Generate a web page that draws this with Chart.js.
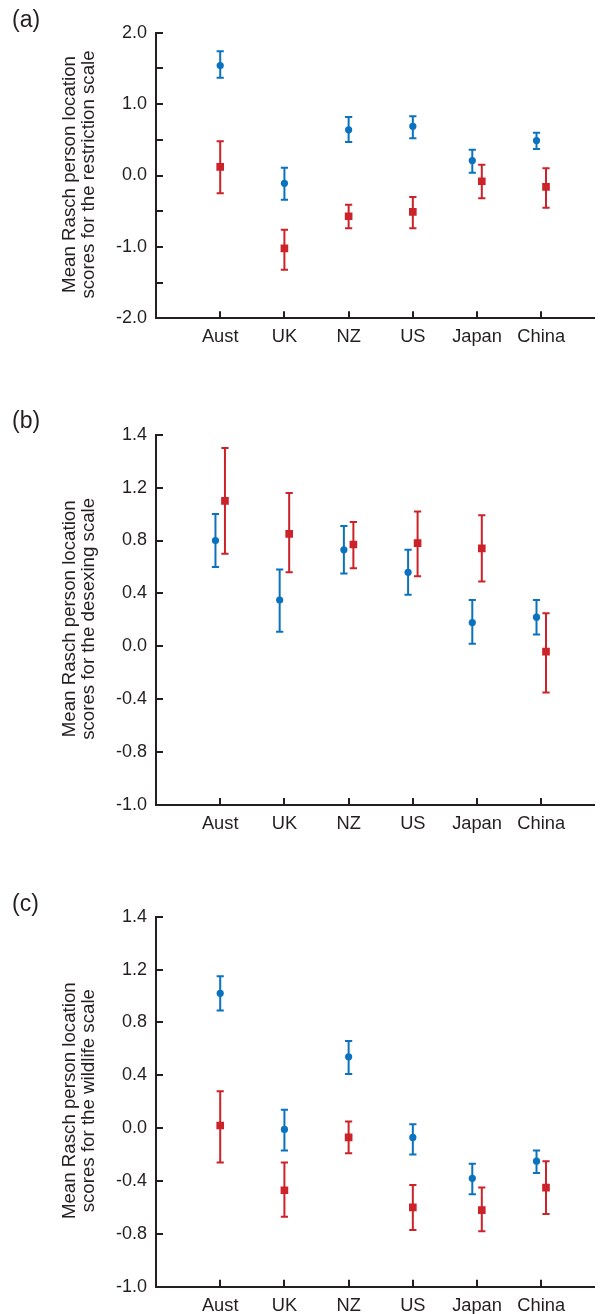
<!DOCTYPE html>
<html>
<head>
<meta charset="utf-8">
<script src="https://cdn.jsdelivr.net/npm/chart.js@4.4.0/dist/chart.umd.min.js"></script>
<style>
html, body { margin: 0; padding: 0; background: #ffffff; width: 600px; height: 1314px; overflow: hidden; }
.panel { position: absolute; left: 0; width: 600px; }
canvas { display: block; }
</style>
</head>
<body>
<div class="panel" style="top:0px;height:360px"><canvas id="ca" width="600" height="360"></canvas></div>
<div class="panel" style="top:400px;height:440px"><canvas id="cb" width="600" height="440"></canvas></div>
<div class="panel" style="top:870px;height:444px"><canvas id="cc" width="600" height="444"></canvas></div>
<script>
// ---------- data ----------
const categories = ['Aust', 'UK', 'NZ', 'US', 'Japan', 'China'];

// (a) restriction scale
const restrictionBlue     = [1.54, -0.11, 0.64, 0.69, 0.21, 0.49];
const restrictionBlueLow  = [1.37, -0.34, 0.47, 0.52, 0.04, 0.37];
const restrictionBlueHigh = [1.74, 0.11, 0.82, 0.83, 0.36, 0.60];
const restrictionRed      = [0.12, -1.02, -0.57, -0.51, -0.08, -0.16];
const restrictionRedLow   = [-0.25, -1.32, -0.74, -0.74, -0.32, -0.45];
const restrictionRedHigh  = [0.48, -0.76, -0.41, -0.30, 0.15, 0.10];
const restrictionTickValues = [-2, -1.5, -1, -0.5, 0, 0.5, 1, 1.5, 2];
const restrictionTickLabels = ['-2.0', '', '-1.0', '', '0.0', '', '1.0', '', '2.0'];

// (b) desexing scale
const desexingBlue     = [0.80, 0.35, 0.73, 0.56, 0.18, 0.22];
const desexingBlueLow  = [0.60, 0.11, 0.55, 0.39, 0.02, 0.09];
const desexingBlueHigh = [1.00, 0.58, 0.91, 0.73, 0.35, 0.35];
const desexingRed      = [1.10, 0.85, 0.77, 0.78, 0.74, -0.04];
const desexingRedLow   = [0.70, 0.56, 0.59, 0.53, 0.49, -0.35];
const desexingRedHigh  = [1.50, 1.16, 0.94, 1.02, 0.99, 0.25];

// (c) wildlife scale
const wildlifeBlue     = [1.02, -0.01, 0.54, -0.07, -0.38, -0.25];
const wildlifeBlueLow  = [0.89, -0.17, 0.41, -0.20, -0.50, -0.34];
const wildlifeBlueHigh = [1.15, 0.14, 0.66, 0.03, -0.27, -0.17];
const wildlifeRed      = [0.02, -0.47, -0.07, -0.60, -0.62, -0.45];
const wildlifeRedLow   = [-0.26, -0.67, -0.19, -0.77, -0.78, -0.65];
const wildlifeRedHigh  = [0.28, -0.26, 0.05, -0.43, -0.45, -0.25];

// tick positions / printed labels used by panels (b) and (c)
const scaleTickValues = [-1.2, -0.8, -0.4, 0, 0.4, 0.8, 1.2, 1.6];
const scaleTickLabels = ['-1.0', '-0.8', '-0.4', '0.0', '0.4', '0.8', '1.2', '1.4'];

// which categories have their two markers side by side
const dodgedA = [false, false, false, false, true, true];
const dodgedB = [true, true, true, true, true, true];
const dodgedC = [false, false, false, false, true, true];

// ---------- style ----------
const BLUE = '#0b72c0';
const RED = '#cc2229';
const INK = '#231f20';
const FONT = "'Liberation Sans', Arial, Helvetica, sans-serif";
const DODGE = 0.074;
const AXIS_LEFT = 156;
const CAT_STEP = 65;

function makePanel(id, p) {
  const canvas = document.getElementById(id);
  const H = canvas.height;
  const xmax = (600 - AXIS_LEFT) / CAT_STEP;
  const pos = (i, sign) => i + 1 + (p.dodge[i] ? sign * DODGE : 0);
  const blueData = p.blue.map((v, i) => ({ x: pos(i, -1), y: v, lo: p.blueLow[i], hi: p.blueHigh[i] }));
  const redData = p.red.map((v, i) => ({ x: pos(i, 1), y: v, lo: p.redLow[i], hi: p.redHigh[i] }));

  const errorBars = {
    id: 'errorBars_' + id,
    beforeDatasetsDraw(chart) {
      const ctx = chart.ctx;
      const xs = chart.scales.x, ys = chart.scales.y;
      ctx.save();
      chart.data.datasets.forEach(ds => {
        ctx.strokeStyle = ds.borderColor;
        ctx.lineWidth = 2;
        ds.data.forEach(d => {
          const x = xs.getPixelForValue(d.x);
          const y1 = ys.getPixelForValue(d.lo);
          const y2 = ys.getPixelForValue(d.hi);
          ctx.beginPath();
          ctx.moveTo(x, y1); ctx.lineTo(x, y2);
          ctx.moveTo(x - 3.6, y1); ctx.lineTo(x + 3.6, y1);
          ctx.moveTo(x - 3.6, y2); ctx.lineTo(x + 3.6, y2);
          ctx.stroke();
        });
      });
      ctx.restore();
    },
    afterDraw(chart) {
      const ctx = chart.ctx;
      const xs = chart.scales.x, ys = chart.scales.y;
      const a = chart.chartArea;
      ctx.save();
      ctx.strokeStyle = INK;
      ctx.lineWidth = 2;
      ctx.beginPath();
      ys.ticks.forEach(t => {
        const y = Math.round(ys.getPixelForValue(t.value));
        ctx.moveTo(a.left, y); ctx.lineTo(a.left + 7, y);
      });
      xs.ticks.forEach(t => {
        const x = Math.round(xs.getPixelForValue(t.value));
        ctx.moveTo(x, a.bottom); ctx.lineTo(x, a.bottom - 7);
      });
      ctx.stroke();
      // panel letter
      ctx.fillStyle = INK;
      ctx.font = '23px ' + FONT;
      ctx.textAlign = 'left';
      ctx.textBaseline = 'middle';
      ctx.fillText(p.letter, 12, p.letterY);
      // rotated axis title
      const midY = (a.top + a.bottom) / 2 - 1;
      ctx.font = '18.7px ' + FONT;
      ctx.textAlign = 'center';
      ctx.textBaseline = 'middle';
      [[p.title[0], 70], [p.title[1], 89]].forEach(([txt, x]) => {
        ctx.save();
        ctx.translate(x, midY);
        ctx.rotate(-Math.PI / 2);
        ctx.fillText(txt, 0, 0);
        ctx.restore();
      });
      ctx.restore();
    }
  };

  return new Chart(canvas, {
    type: 'scatter',
    data: {
      datasets: [
        { data: blueData, pointStyle: 'circle', pointRadius: 3.6, pointHoverRadius: 3.6,
          backgroundColor: BLUE, borderColor: BLUE, borderWidth: 0 },
        { data: redData, pointStyle: 'rect', pointRadius: 5.4, pointHoverRadius: 5.4,
          backgroundColor: RED, borderColor: RED, borderWidth: 0 }
      ]
    },
    options: {
      responsive: false,
      animation: false,
      events: [],
      layout: { padding: { top: p.plotTop, left: 0, right: 0, bottom: 0 } },
      plugins: { legend: { display: false }, tooltip: { enabled: false }, title: { display: false } },
      scales: {
        x: {
          type: 'linear', position: 'bottom', min: 0, max: xmax,
          grid: { display: false, drawTicks: false },
          border: { display: true, color: INK, width: 2 },
          afterBuildTicks: s => { s.ticks = categories.map((c, i) => ({ value: i + 1 })); },
          afterFit: s => { s.height = H - p.plotBottom; },
          ticks: {
            autoSkip: false, maxRotation: 0, padding: 8, color: INK,
            font: { family: FONT, size: 18.3 },
            callback: v => categories[Math.round(v) - 1] || ''
          }
        },
        y: {
          type: 'linear', position: 'left', min: p.tickValues[0], max: p.tickValues[p.tickValues.length - 1],
          grid: { display: false, drawTicks: false },
          border: { display: true, color: INK, width: 2 },
          afterBuildTicks: s => { s.ticks = p.tickValues.map(v => ({ value: v })); },
          afterFit: s => { s.width = AXIS_LEFT; },
          ticks: {
            autoSkip: false, padding: 9, color: INK,
            font: { family: FONT, size: 18 },
            callback: (v, i) => p.tickLabels[i]
          }
        }
      }
    },
    plugins: [errorBars]
  });
}

makePanel('ca', {
  blue: restrictionBlue, blueLow: restrictionBlueLow, blueHigh: restrictionBlueHigh,
  red: restrictionRed, redLow: restrictionRedLow, redHigh: restrictionRedHigh,
  tickValues: restrictionTickValues, tickLabels: restrictionTickLabels, dodge: dodgedA,
  plotTop: 32.7, plotBottom: 318.3, letter: '(a)', letterY: 21,
  title: ['Mean Rasch person location', 'scores for the restriction scale']
});
makePanel('cb', {
  blue: desexingBlue, blueLow: desexingBlueLow, blueHigh: desexingBlueHigh,
  red: desexingRed, redLow: desexingRedLow, redHigh: desexingRedHigh,
  tickValues: scaleTickValues, tickLabels: scaleTickLabels, dodge: dodgedB,
  plotTop: 34.7, plotBottom: 405, letter: '(b)', letterY: 22,
  title: ['Mean Rasch person location', 'scores for the desexing scale']
});
makePanel('cc', {
  blue: wildlifeBlue, blueLow: wildlifeBlueLow, blueHigh: wildlifeBlueHigh,
  red: wildlifeRed, redLow: wildlifeRedLow, redHigh: wildlifeRedHigh,
  tickValues: scaleTickValues, tickLabels: scaleTickLabels, dodge: dodgedC,
  plotTop: 46.7, plotBottom: 416.7, letter: '(c)', letterY: 35,
  title: ['Mean Rasch person location', 'scores for the wildlife scale']
});
</script>
</body>
</html>
